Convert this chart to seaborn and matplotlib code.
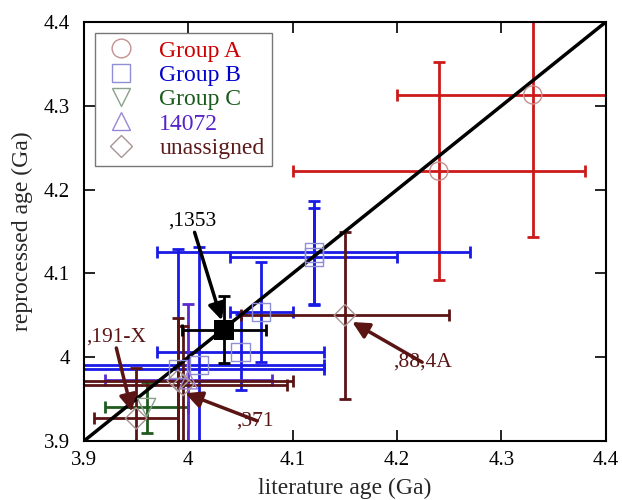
import numpy as np
import pandas as pd
import matplotlib
matplotlib.use("Agg")
import matplotlib.pyplot as plt
from matplotlib.lines import Line2D
import seaborn as sns

# ---- data (Ga) ----
groupA_x = [4.24, 4.33]
groupA_y = [4.222, 4.313]
groupA_xerr = [0.14, 0.13]
groupA_yerr = [0.13, 0.17]

groupB_x = [4.12, 4.12, 4.07, 4.05, 4.01, 3.99]
groupB_y = [4.125, 4.120, 4.054, 4.006, 3.991, 3.986]
groupB_xerr = [0.15, 0.08, 0.03, 0.08, 0.12, 0.14]
groupB_yerr = [0.061, 0.058, 0.06, 0.045, 0.14, 0.143]

groupC_x = [3.96]
groupC_y = [3.94]
groupC_xerr = [0.04]
groupC_yerr = [0.03]

s14072_x = [4.00]
s14072_y = [3.973]
s14072_xerr = [0.08]
s14072_yerr = [0.09]

unas_x = [4.15, 3.99, 3.995, 3.95]
unas_y = [4.05, 3.972, 3.967, 3.927]
unas_xerr = [0.10, 0.11, 0.10, 0.04]
unas_yerr = [0.10, 0.075, 0.07, 0.06]

hl_x = [4.034]
hl_y = [4.033]
hl_xerr = [0.04]
hl_yerr = [0.04]

labels = ["Group A", "Group B", "Group C", "14072", "unassigned"]
ticks = [3.9, 4.0, 4.1, 4.2, 4.3, 4.4]
tick_labels = ["3.9", "4", "4.1", "4.2", "4.3", "4.4"]

# annotations: (text, text_x, text_y, tip_x, tip_y)
ann_text = [",1353", ",191-X", ",371", ",88,4A"]
ann_txy = [(4.004, 4.162), (3.931, 4.024), (4.066, 3.924), (4.224, 3.994)]
ann_tip = [(4.032, 4.044), (3.946, 3.935), (3.997, 3.957), (4.157, 4.042)]

# ---- style ----
sns.set_style("ticks")
plt.rcParams["font.family"] = ["Liberation Serif", "DejaVu Serif"]
plt.rcParams["mathtext.fontset"] = "stix"

fig = plt.figure(figsize=(6.22, 5.0), dpi=100)
ax = fig.add_axes([0.135, 0.118, 0.839, 0.838])

ebar_col = {"A": "#cc1a1a", "B": "#1a1ae6", "C": "#1f5a1f", "T": "#5a2ad0", "U": "#5a1414", "H": "#000000"}
mk_col = {"A": "#c49090", "B": "#8f8fd6", "C": "#8aa08a", "T": "#9a86d6", "U": "#a89494"}
text_col = {"A": "#cc0000", "B": "#0000cc", "C": "#1a5a1a", "T": "#5522cc", "U": "#5c1a1a"}
markers = {"A": "o", "B": "s", "C": "v", "T": "^", "U": "D"}

sets = [
    ("A", groupA_x, groupA_y, groupA_xerr, groupA_yerr),
    ("B", groupB_x, groupB_y, groupB_xerr, groupB_yerr),
    ("C", groupC_x, groupC_y, groupC_xerr, groupC_yerr),
    ("T", s14072_x, s14072_y, s14072_xerr, s14072_yerr),
    ("U", unas_x, unas_y, unas_xerr, unas_yerr),
]

for key, x, y, xe, ye in sets:
    ax.errorbar(x, y, xerr=xe, yerr=ye, fmt="none", ecolor=ebar_col[key],
                elinewidth=2, capsize=4, capthick=2, zorder=2, clip_on=True)

ax.errorbar(hl_x, hl_y, xerr=hl_xerr, yerr=hl_yerr, fmt="none", ecolor="black",
            elinewidth=2, capsize=4, capthick=2, zorder=2)

# 1:1 line
ax.plot([3.9, 4.4], [3.9, 4.4], color="black", lw=2.5, zorder=3)

for key, x, y, xe, ye in sets:
    df = pd.DataFrame({"x": x, "y": y})
    sns.scatterplot(data=df, x="x", y="y", ax=ax, marker=markers[key], s=170 if key != "U" else 120,
                    facecolor="none", edgecolor=mk_col[key], linewidth=1.0, zorder=4, legend=False)

dfh = pd.DataFrame({"x": hl_x, "y": hl_y})
sns.scatterplot(data=dfh, x="x", y="y", ax=ax, marker="s", s=200, color="black",
                edgecolor="black", linewidth=0, zorder=5, legend=False)

# annotations
ann_colors = ["black", "#5a1414", "#5a1414", "#5a1414"]
for t, (tx, ty), (px, py), c in zip(ann_text, ann_txy, ann_tip, ann_colors):
    ax.annotate("", xy=(px, py), xytext=(tx + (0.002 if t == ",1353" else 0), ty - (0.013 if t in (",1353", ",191-X") else 0)),
                arrowprops=dict(arrowstyle="-|>", color=c, lw=2.5, mutation_scale=25,
                                shrinkA=0, shrinkB=0), zorder=6)
for t, (tx, ty), c in zip(ann_text, ann_txy, ann_colors):
    if t == ",371":
        ax.text(tx - 0.020, ty, t, color=c, fontsize=15.5, ha="left", va="center", zorder=7)
    elif t == ",88,4A":
        ax.text(tx - 0.028, ty, t, color=c, fontsize=15.5, ha="left", va="center", zorder=7)
    else:
        ax.text(tx, ty, t, color=c, fontsize=15.5, ha="center", va="center", zorder=7)

ax.set_xlim(3.9, 4.4)
ax.set_ylim(3.9, 4.4)
ax.set_xticks(ticks)
ax.set_yticks(ticks)
ax.set_xticklabels(tick_labels)
ax.set_yticklabels(tick_labels)
ax.tick_params(direction="in", length=8, width=1.2, top=True, right=True,
               labelsize=15, colors="black")
ax.tick_params(axis="x", pad=7)
ax.tick_params(axis="y", pad=10)
for sp in ax.spines.values():
    sp.set_linewidth(1.5)
    sp.set_color("black")
    sp.set_visible(True)

ax.set_xlabel("literature age (Ga)", fontsize=17, labelpad=6)
ax.set_ylabel("reprocessed age (Ga)", fontsize=17, labelpad=8)

handles = [Line2D([], [], linestyle="none", marker=markers[k], markersize=13.5 if k != "U" else 11.5,
                  markerfacecolor="none", markeredgecolor=mk_col[k], markeredgewidth=1.0)
           for k in ["A", "B", "C", "T", "U"]]
leg = ax.legend(handles, labels, loc="upper left", bbox_to_anchor=(0.022, 0.974),
                borderaxespad=0, fontsize=17, frameon=True, fancybox=False,
                edgecolor="#555555", labelspacing=0.12, handlelength=1.6,
                handletextpad=0.8, borderpad=0.3)
leg.get_frame().set_linewidth(1.0)
for txt, k in zip(leg.get_texts(), ["A", "B", "C", "T", "U"]):
    txt.set_color(text_col[k])

fig.savefig("out.png", dpi=100)
